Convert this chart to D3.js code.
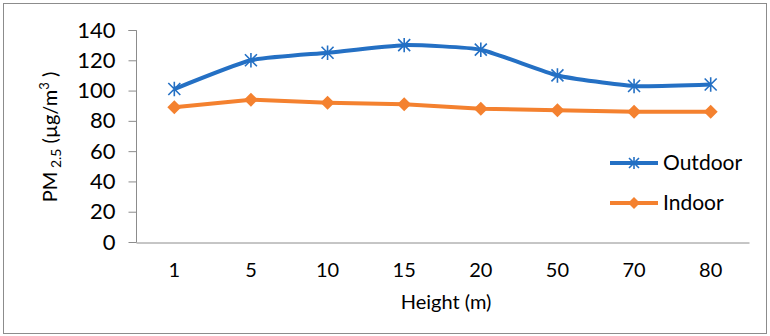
<!DOCTYPE html>
<html><head><meta charset="utf-8">
<script src="https://cdn.jsdelivr.net/npm/d3@7"></script>
<style>body{margin:0;background:#fff}svg{display:block}text{font-family:Lato,"Noto Sans",sans-serif;fill:#000}</style>
</head><body>
<script>
const categories = ["1","5","10","15","20","50","70","80"];
const outdoor = [101,120,125,130,127,110,103,104];
const indoor = [89,94,92,91,88,87,86,86];
const yTicks = [0,20,40,60,80,100,120,140];
const seriesNames = ["Outdoor","Indoor"];
const colors = ["#2470C4","#F4812F"];

(function(){
const W=770,H=336;
const svg=d3.select("body").append("svg").attr("width",W).attr("height",H);
svg.append("rect").attr("x",3.5).attr("y",3.5).attr("width",763).attr("height",330)
  .attr("fill","#fff").attr("stroke","#8c8c8c").attr("stroke-width",1);

const pL=136,pR=749,pT=30,pB=242;
const x=d3.scaleBand().domain(categories).range([pL,pR]);
const y=d3.scaleLinear().domain([0,140]).range([pB,pT]);

// y axis
const ya=svg.append("g").attr("transform",`translate(${pL+0.5},0)`)
  .call(d3.axisLeft(y).tickValues(yTicks).tickSize(8).tickPadding(13));
ya.select(".domain").attr("stroke","#8c8c8c").attr("d",`M-8,${y(140)+0.5}H0V${pB+0.5}`);
ya.selectAll(".tick line").attr("stroke","#8c8c8c");
ya.selectAll(".tick").attr("transform",d=>`translate(0,${y(d)+0.5})`);
ya.selectAll("text").attr("font-size",22).attr("font-family","Lato").attr("fill","#000");

// x axis
const xa=svg.append("g").attr("transform",`translate(0,${pB+0.5})`)
  .call(d3.axisBottom(x).tickSize(0).tickPadding(20));
xa.select(".domain").attr("stroke","#8c8c8c");
xa.selectAll("text").attr("font-size",20).attr("font-family","Lato").attr("fill","#000");

svg.append("text").attr("x",446).attr("y",309).attr("text-anchor","middle")
  .attr("font-size",20).text("Height (m)");

const yt=svg.append("text").attr("transform",`translate(57,137) rotate(-90)`)
  .attr("text-anchor","middle").attr("font-size",20);
yt.append("tspan").text("PM");
yt.append("tspan").attr("font-size",14).attr("dy",4).text(" 2.5");
yt.append("tspan").attr("dy",-4).text("  (µg/m");
yt.append("tspan").attr("font-size",13).attr("dy",-8).text("3");
yt.append("tspan").attr("dy",8).text(" )");

const cx0=(d,i)=>x(categories[i])+x.bandwidth()/2;
const lineSmooth=d3.line().x(cx0).y(d=>y(d)).curve(d3.curveCardinal.tension(0.5));
const lineStraight=d3.line().x(cx0).y(d=>y(d));
const data=[outdoor,indoor];
const gens=[lineSmooth,lineStraight];

function star(g,cx,cy,s,c){
  const p=`M${cx-s},${cy-s}L${cx+s},${cy+s}M${cx-s},${cy+s}L${cx+s},${cy-s}M${cx},${cy-s*1.2}L${cx},${cy+s*1.2}`;
  g.append("path").attr("d",p).attr("stroke",c).attr("stroke-width",1.6).attr("fill","none");
}
function diamond(g,cx,cy,s,c){
  g.append("path").attr("d",`M${cx},${cy-s}L${cx+s},${cy}L${cx},${cy+s}L${cx-s},${cy}Z`).attr("fill",c);
}

data.forEach((vals,k)=>{
  const g=svg.append("g");
  g.append("path").datum(vals).attr("d",gens[k]).attr("fill","none").attr("stroke",colors[k]).attr("stroke-width",4);
  vals.forEach((v,i)=>{
    const cx=cx0(v,i), cy=y(v);
    if(k===0) star(g,cx,cy,6,colors[0]); else diamond(g,cx,cy,7,colors[1]);
  });
});

// legend
const lg=svg.append("g");
[163,203].forEach((ly,k)=>{
  lg.append("line").attr("x1",610).attr("x2",658).attr("y1",ly).attr("y2",ly).attr("stroke",colors[k]).attr("stroke-width",4);
  if(k===0) star(lg,634,ly,5,colors[0]); else diamond(lg,634,ly,6,colors[1]);
  lg.append("text").attr("x",663).attr("y",ly+7).attr("font-size",21).text(seriesNames[k]);
});
})();
</script>
</body></html>
